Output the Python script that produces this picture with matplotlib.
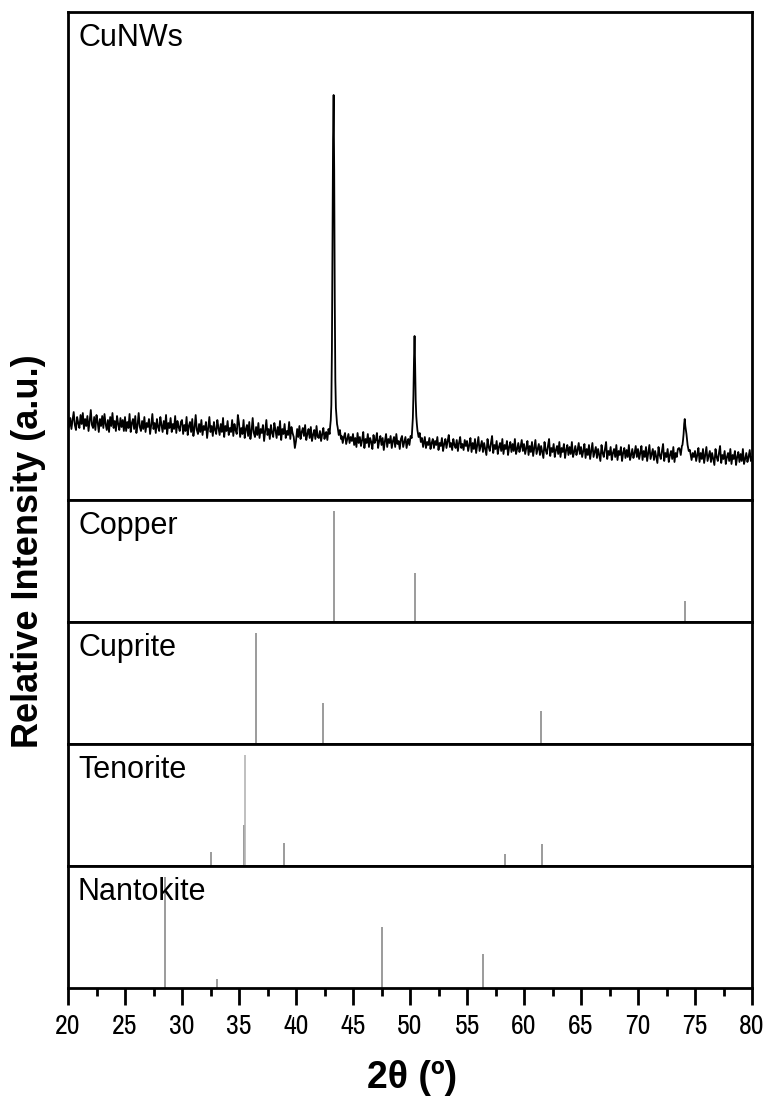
import numpy as np
import matplotlib
matplotlib.use("Agg")
import matplotlib.pyplot as plt
from matplotlib.ticker import MultipleLocator

# ---------------- data ----------------
# measured CuNWs pattern: background on a 20..80 grid, step 0.1 (values estimated from picture)
grid_start, grid_step = 20.0, 0.1
cunws_background = [
    86, 73, 82, 71, 80, 88, 75, 70, 83, 77, 72, 85, 76, 87, 71, 81, 74, 84, 69, 79, 90, 75, 72, 83, 70, 85, 78, 68, 81, 74, 84, 72, 86, 76, 70, 80, 68, 83, 74, 87, 72, 79, 69, 84, 76, 70, 82, 73, 80, 69,
    83, 69, 78, 72, 86, 68, 77, 81, 71, 84, 67, 75, 87, 73, 69, 79, 71, 83, 68, 77, 73, 81, 66, 75, 86, 71, 77, 67, 81, 73, 69, 83, 75, 68, 79, 71, 85, 66, 77, 72, 82, 68, 76, 71, 84, 67, 79, 73, 69, 78,
    80, 66, 75, 69, 83, 65, 74, 78, 68, 81, 64, 72, 85, 70, 66, 76, 68, 80, 65, 74, 70, 78, 62, 72, 83, 68, 74, 64, 78, 70, 66, 80, 72, 65, 76, 68, 82, 63, 74, 69, 79, 65, 72, 68, 80, 64, 76, 70, 66, 85,
    77, 63, 72, 66, 80, 62, 71, 75, 64, 78, 61, 69, 82, 67, 63, 73, 65, 77, 62, 71, 67, 75, 59, 69, 80, 65, 71, 61, 75, 67, 63, 77, 70, 62, 73, 65, 79, 60, 71, 66, 76, 62, 69, 65, 78, 61, 73, 67, 63, 52,
    59, 71, 63, 74, 61, 68, 72, 64, 75, 60, 66, 71, 62, 73, 59, 65, 70, 61, 74, 63, 62, 69, 59, 66, 72, 61, 67, 58, 65, 69, 60, 66, 63, 57, 68, 61, 65, 58, 66, 60, 64, 57, 63, 67, 56, 61, 66, 57, 63, 59,
    66, 55, 62, 53, 67, 57, 63, 54, 60, 68, 52, 61, 57, 66, 53, 62, 58, 51, 65, 57, 60, 67, 52, 59, 64, 55, 62, 50, 59, 66, 53, 61, 57, 64, 52, 59, 63, 53, 66, 56, 59, 51, 61, 64, 53, 58, 63, 52, 59, 61,
    58, 60, 62, 70, 90, 160, 80, 66, 60, 57, 55, 59, 56, 63, 52, 58, 55, 62, 51, 57, 61, 52, 59, 55, 63, 50, 57, 54, 62, 49, 56, 61, 52, 59, 65, 53, 57, 50, 61, 55, 52, 60, 49, 57, 63, 52, 56, 50, 60, 54,
    59, 49, 55, 62, 48, 57, 51, 61, 47, 55, 63, 49, 54, 59, 48, 57, 51, 45, 61, 53, 49, 57, 64, 47, 55, 51, 59, 46, 53, 57, 49, 61, 46, 55, 51, 59, 45, 53, 58, 48, 56, 49, 61, 46, 51, 57, 48, 53, 60, 49,
    56, 46, 52, 59, 45, 54, 48, 58, 44, 52, 60, 46, 51, 56, 45, 54, 48, 42, 58, 50, 46, 54, 61, 44, 52, 48, 56, 43, 50, 54, 46, 58, 43, 52, 48, 56, 42, 50, 55, 45, 53, 46, 58, 43, 48, 54, 45, 50, 57, 46,
    53, 43, 49, 56, 42, 51, 45, 55, 41, 49, 57, 43, 48, 53, 42, 51, 45, 39, 55, 47, 43, 51, 58, 41, 49, 45, 53, 40, 47, 51, 43, 55, 40, 49, 45, 53, 39, 47, 52, 42, 50, 43, 55, 40, 45, 51, 42, 47, 54, 43,
    51, 41, 47, 54, 40, 49, 43, 53, 39, 47, 55, 41, 46, 51, 40, 49, 43, 37, 53, 45, 41, 49, 56, 39, 47, 43, 51, 38, 45, 49, 41, 53, 38, 47, 43, 51, 52, 58, 66, 78, 70, 62, 55, 50, 47, 45, 51, 40, 47, 43,
    49, 39, 45, 52, 38, 47, 41, 51, 37, 45, 53, 39, 44, 49, 38, 47, 41, 35, 51, 43, 39, 47, 54, 37, 45, 41, 49, 36, 43, 47, 39, 51, 36, 45, 41, 49, 35, 43, 48, 38, 46, 39, 51, 36, 41, 47, 38, 43, 50, 39,
    43,
]
# finely sampled peak regions of the measured pattern
peak111_x = [42.65, 42.75, 42.85, 42.95, 43.0, 43.05, 43.1, 43.15, 43.2, 43.25, 43.3, 43.35, 43.4, 43.45, 43.5, 43.55, 43.6, 43.65, 43.75, 43.85, 43.95]
peak111_y = [68, 60, 71, 66, 74, 80, 95, 150, 260, 360, 405, 330, 200, 120, 92, 84, 76, 73, 65, 70, 61]
peak200_x = [49.85, 49.95, 50.05, 50.15, 50.2, 50.25, 50.3, 50.35, 50.4, 50.45, 50.5, 50.55, 50.6, 50.65, 50.75, 50.85, 50.95, 51.05, 51.15, 51.25]
peak200_y = [61, 55, 64, 62, 72, 82, 105, 140, 164, 135, 100, 84, 76, 70, 63, 67, 58, 62, 53, 60]
peak220_x = [73.65, 73.75, 73.85, 73.9, 73.95, 74.0, 74.05, 74.1, 74.15, 74.2, 74.25, 74.3, 74.35, 74.45, 74.55, 74.65]
peak220_y = [51, 45, 54, 55, 60, 66, 76, 81, 74, 70, 66, 60, 55, 49, 50, 43]

# reference stick patterns (2theta, relative intensity)
copper_pos = [43.3, 50.4, 74.1]
copper_int = [100, 44, 19]
cuprite_pos = [36.5, 42.35, 61.45]
cuprite_int = [100, 37, 30]
tenorite_pos = [32.55, 35.45, 35.55, 38.95, 58.3, 61.55]
tenorite_int = [13, 37, 100, 21, 11, 20]
nantokite_pos = [28.55, 33.05, 47.5, 56.4]
nantokite_int = [100, 8, 55, 31]

panel_labels = ["CuNWs", "Copper", "Cuprite", "Tenorite", "Nantokite"]
xticks = list(range(20, 81, 5))

# ---------------- assemble measured series ----------------
grid_x = grid_start + grid_step * np.arange(len(cunws_background))
bg_y = np.array(cunws_background, dtype=float)
peaks = [(peak111_x, peak111_y), (peak200_x, peak200_y), (peak220_x, peak220_y)]
keep = np.ones(len(grid_x), dtype=bool)
for px, py in peaks:
    keep &= ~((grid_x >= px[0] - 1e-9) & (grid_x <= px[-1] + 1e-9))
all_x = np.concatenate([grid_x[keep]] + [np.array(p[0]) for p in peaks])
all_y = np.concatenate([bg_y[keep]] + [np.array(p[1]) for p in peaks])
order = np.argsort(all_x)
all_x, all_y = all_x[order], all_y[order]

# ---------------- figure ----------------
W, H = 773, 1104
fig = plt.figure(figsize=(W / 100, H / 100), dpi=100)
left, right = 68 / W, 752 / W
top, bottom = 1 - 12 / H, 1 - 988 / H
gs = fig.add_gridspec(5, 1, height_ratios=[4, 1, 1, 1, 1], hspace=0,
                      left=left, right=right, top=top, bottom=bottom)
axes = [fig.add_subplot(gs[i]) for i in range(5)]

label_font = ["Liberation Sans", "DejaVu Sans"]
narrow_font = ["Liberation Sans Narrow", "Archivo Narrow", "Liberation Sans", "DejaVu Sans"]
stick_color = "#8a8a8a"

axes[0].plot(all_x, all_y, color="black", lw=1.3)
axes[0].set_ylim(0, 488)

sticks = [(copper_pos, copper_int), (cuprite_pos, cuprite_int),
          (tenorite_pos, tenorite_int), (nantokite_pos, nantokite_int)]
for ax, (pos, inten) in zip(axes[1:], sticks):
    colors = [("#b4b4b4" if v >= 100 and ax is axes[3] else stick_color) for v in inten]
    ax.vlines(pos, 0, inten, colors=colors, lw=1.2)
    ax.set_ylim(0, 110)

for i, ax in enumerate(axes):
    ax.set_xlim(20, 80)
    ax.set_yticks([])
    for s in ax.spines.values():
        s.set_linewidth(2)
        s.set_color("black")
    ax.text(10 / 684, 1 - 11 / ax.bbox.height, panel_labels[i], transform=ax.transAxes,
            ha="left", va="top", fontsize=22, family=label_font)
    if i < 4:
        ax.tick_params(axis="x", which="both", bottom=False, labelbottom=False)

axb = axes[-1]
axb.set_xticks(xticks)
axb.xaxis.set_minor_locator(MultipleLocator(2.5))
axb.tick_params(axis="x", which="major", direction="out", length=12, width=2, pad=7,
                labelsize=20)
axb.tick_params(axis="x", which="minor", direction="out", length=6, width=2)
for lab in axb.get_xticklabels():
    lab.set_family(narrow_font)

fig.text(412 / W, 1 - 1078 / H, "2θ (º)", ha="center", va="center",
         fontsize=27, fontweight="bold", family=label_font)
fig.text(29 / W, 1 - 551 / H, "Relative Intensity (a.u.)", ha="center", va="center",
         rotation=90, fontsize=26, fontweight="bold", family=label_font)

fig.savefig("out.png", dpi=100)
